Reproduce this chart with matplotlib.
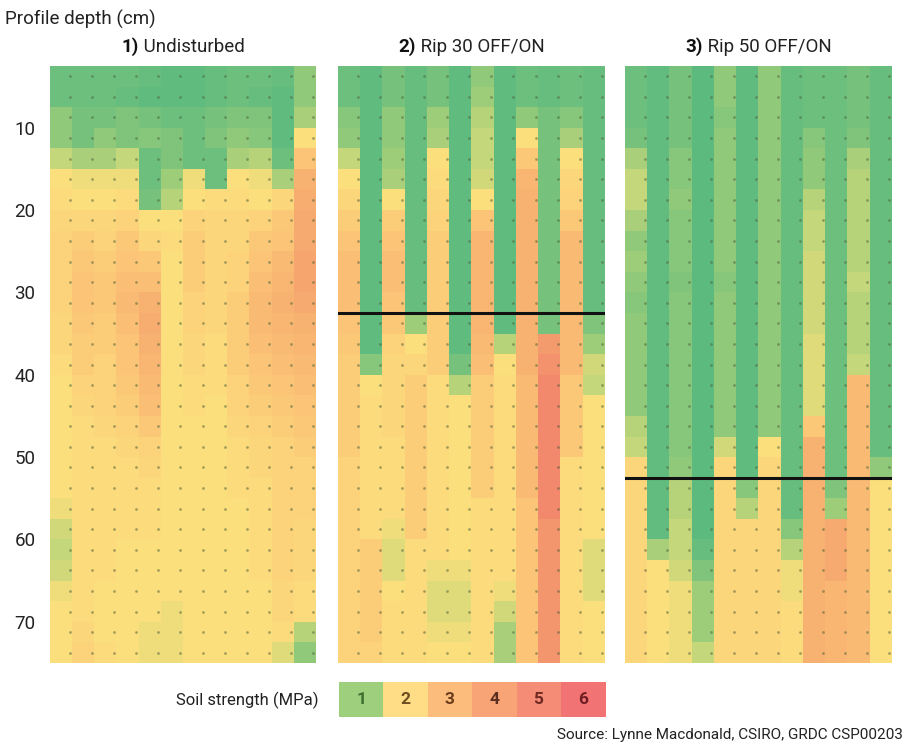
import matplotlib
matplotlib.use("Agg")
import matplotlib.pyplot as plt
import numpy as np
from matplotlib.colors import LinearSegmentedColormap, ListedColormap

plt.rcParams["font.family"] = ["Roboto", "DejaVu Sans"]

# depth rows: 2.5 cm cells from 2.5 to 75 cm, 12 sampling columns per profile
DEPTH_TOP = 2.5
DEPTH_BOTTOM = 75.0
N_COLS = 12

UNDISTURBED = [
    [0.8, 0.8, 0.8, 0.8, 0.7, 0.6, 0.6, 0.7, 0.8, 0.8, 0.7, 1.2],
    [0.8, 0.8, 0.8, 0.7, 0.6, 0.6, 0.6, 0.7, 0.8, 0.7, 0.6, 1.2],
    [1.2, 0.9, 0.9, 1.0, 0.9, 0.8, 0.8, 0.9, 1.0, 1.0, 0.6, 1.4],
    [1.2, 0.9, 1.2, 1.0, 1.1, 1.0, 0.8, 1.0, 1.2, 1.1, 0.6, 2.0],
    [1.6, 1.4, 1.4, 1.6, 0.8, 1.0, 0.8, 0.8, 1.4, 1.5, 0.8, 2.6],
    [2.0, 1.9, 1.9, 1.9, 0.8, 1.3, 1.9, 0.8, 2.0, 1.9, 1.4, 3.0],
    [2.1, 2.0, 2.0, 2.1, 0.9, 1.5, 2.0, 2.1, 2.1, 2.0, 2.2, 3.1],
    [2.2, 2.2, 2.2, 2.3, 2.0, 2.0, 2.3, 2.2, 2.2, 2.3, 2.5, 3.2],
    [2.3, 2.4, 2.3, 2.5, 2.2, 2.1, 2.4, 2.2, 2.2, 2.5, 2.6, 3.2],
    [2.3, 2.5, 2.4, 2.6, 2.5, 2.0, 2.4, 2.2, 2.3, 2.6, 2.8, 3.3],
    [2.3, 2.6, 2.5, 2.7, 2.7, 2.0, 2.4, 2.2, 2.3, 2.7, 2.9, 3.3],
    [2.3, 2.6, 2.5, 2.8, 3.0, 2.0, 2.3, 2.2, 2.4, 2.8, 3.0, 3.2],
    [2.2, 2.5, 2.4, 2.7, 3.1, 2.0, 2.3, 2.2, 2.4, 2.8, 2.9, 3.0],
    [2.2, 2.4, 2.4, 2.6, 3.0, 2.0, 2.2, 2.1, 2.4, 2.7, 2.8, 2.9],
    [2.1, 2.4, 2.3, 2.6, 2.9, 2.0, 2.2, 2.1, 2.4, 2.6, 2.7, 2.8],
    [2.0, 2.3, 2.3, 2.5, 2.8, 2.0, 2.1, 2.1, 2.3, 2.5, 2.6, 2.7],
    [2.0, 2.2, 2.3, 2.4, 2.7, 2.0, 2.1, 2.0, 2.3, 2.4, 2.5, 2.6],
    [2.0, 2.1, 2.2, 2.3, 2.5, 2.0, 2.0, 2.0, 2.2, 2.3, 2.4, 2.5],
    [2.0, 2.1, 2.1, 2.2, 2.3, 2.0, 2.0, 2.0, 2.1, 2.2, 2.3, 2.4],
    [2.0, 2.1, 2.1, 2.1, 2.2, 2.0, 2.0, 2.0, 2.1, 2.2, 2.3, 2.3],
    [2.0, 2.1, 2.1, 2.1, 2.1, 2.0, 2.0, 2.0, 2.1, 2.1, 2.3, 2.3],
    [1.9, 2.1, 2.1, 2.1, 2.1, 2.0, 2.0, 2.0, 2.0, 2.1, 2.3, 2.3],
    [1.7, 2.1, 2.1, 2.1, 2.1, 2.0, 2.0, 2.0, 2.0, 2.1, 2.3, 2.2],
    [1.6, 2.1, 2.1, 2.0, 2.0, 2.0, 2.0, 2.0, 2.0, 2.1, 2.3, 2.2],
    [1.7, 2.1, 2.1, 2.0, 2.0, 2.0, 2.0, 2.0, 2.0, 2.1, 2.3, 2.2],
    [1.9, 2.1, 2.0, 2.0, 2.0, 2.0, 2.0, 2.0, 2.0, 2.0, 2.2, 2.1],
    [2.0, 2.1, 2.0, 2.0, 2.0, 1.9, 2.0, 2.0, 2.0, 2.0, 2.2, 2.1],
    [2.0, 2.2, 2.0, 2.0, 1.9, 1.9, 2.0, 2.0, 2.0, 2.0, 2.1, 1.5],
    [2.0, 2.3, 2.1, 2.0, 1.9, 1.9, 2.0, 2.0, 2.0, 2.0, 1.8, 1.2],
]

RIP30 = [
    [0.8, 0.6, 0.9, 0.7, 0.9, 0.6, 1.2, 0.6, 0.8, 0.7, 0.8, 0.7],
    [0.8, 0.6, 0.9, 0.7, 0.9, 0.6, 1.3, 0.6, 0.8, 0.7, 0.8, 0.7],
    [1.1, 0.6, 1.2, 0.7, 1.3, 0.6, 1.5, 0.6, 1.2, 0.9, 1.1, 0.7],
    [1.2, 0.6, 1.2, 0.7, 1.4, 0.6, 1.6, 0.6, 2.0, 0.9, 1.4, 0.7],
    [1.6, 0.6, 1.3, 0.7, 2.0, 0.6, 1.6, 0.6, 2.5, 0.9, 2.0, 0.7],
    [2.0, 0.6, 1.4, 0.7, 2.1, 0.6, 1.7, 0.6, 2.9, 0.9, 2.2, 0.7],
    [2.2, 0.6, 2.0, 0.7, 2.2, 0.6, 2.0, 0.6, 3.0, 0.9, 2.3, 0.7],
    [2.4, 0.6, 2.4, 0.7, 2.3, 0.6, 2.6, 0.6, 3.0, 0.9, 2.5, 0.7],
    [2.6, 0.6, 2.6, 0.7, 2.4, 0.6, 2.9, 0.6, 3.0, 0.9, 2.8, 0.7],
    [2.7, 0.6, 2.7, 0.7, 2.4, 0.6, 2.9, 0.6, 3.0, 0.9, 2.8, 0.7],
    [2.7, 0.6, 2.7, 0.7, 2.4, 0.6, 2.9, 0.6, 3.0, 0.9, 2.8, 0.7],
    [2.7, 0.6, 2.6, 0.7, 2.4, 0.6, 2.9, 0.6, 3.0, 0.9, 2.8, 0.7],
    [2.6, 0.6, 2.5, 1.3, 2.4, 0.6, 2.9, 0.6, 3.0, 0.9, 2.8, 1.0],
    [2.5, 0.6, 2.3, 2.0, 2.4, 0.6, 2.8, 1.5, 3.0, 3.6, 2.8, 1.3],
    [2.4, 1.1, 2.2, 2.2, 2.4, 0.9, 2.7, 2.0, 3.0, 3.9, 2.8, 1.7],
    [2.4, 2.0, 2.2, 2.4, 2.1, 1.5, 2.4, 2.1, 2.8, 4.3, 2.5, 1.6],
    [2.4, 2.1, 2.2, 2.4, 2.1, 2.0, 2.4, 2.1, 2.8, 4.3, 2.5, 2.0],
    [2.4, 2.1, 2.2, 2.4, 2.1, 2.0, 2.4, 2.1, 2.8, 4.3, 2.5, 2.0],
    [2.4, 2.1, 2.1, 2.4, 2.1, 2.0, 2.4, 2.1, 2.8, 4.3, 2.5, 2.0],
    [2.3, 2.1, 2.1, 2.4, 2.1, 2.0, 2.4, 2.1, 2.8, 4.3, 2.1, 2.0],
    [2.3, 2.1, 2.1, 2.4, 2.1, 2.0, 2.4, 2.1, 2.8, 4.3, 2.1, 2.0],
    [2.3, 2.1, 2.1, 2.4, 2.1, 2.0, 2.1, 2.1, 2.6, 4.3, 2.1, 2.0],
    [2.3, 2.1, 1.9, 2.4, 2.1, 2.0, 2.1, 2.1, 2.6, 3.8, 2.1, 2.0],
    [2.3, 2.4, 1.8, 2.1, 2.1, 2.0, 2.1, 2.1, 2.6, 3.8, 2.1, 1.8],
    [2.3, 2.4, 1.8, 2.1, 1.9, 1.9, 2.1, 2.1, 2.6, 3.8, 2.1, 1.8],
    [2.3, 2.4, 2.0, 2.1, 1.8, 1.8, 2.1, 1.9, 2.6, 3.8, 2.1, 1.8],
    [2.3, 2.4, 2.1, 2.1, 1.8, 1.8, 2.1, 1.7, 2.6, 3.8, 2.1, 2.0],
    [2.3, 2.4, 2.1, 2.1, 1.9, 1.9, 2.1, 1.4, 2.6, 3.8, 2.1, 2.0],
    [2.3, 2.3, 2.1, 2.1, 2.0, 2.0, 2.1, 1.4, 2.6, 3.8, 2.1, 2.0],
]

RIP50 = [
    [0.8, 0.65, 0.9, 0.55, 1.2, 0.6, 1.2, 0.7, 0.8, 0.8, 0.9, 0.7],
    [0.8, 0.65, 0.9, 0.55, 1.2, 0.6, 1.2, 0.7, 0.8, 0.8, 0.9, 0.7],
    [0.8, 0.65, 0.9, 0.55, 1.1, 0.6, 1.2, 0.7, 0.8, 0.8, 0.9, 0.7],
    [0.9, 0.65, 0.9, 0.55, 1.2, 0.6, 1.2, 0.7, 1.1, 0.8, 1.0, 0.7],
    [1.4, 0.65, 1.1, 0.55, 1.2, 0.6, 1.2, 0.7, 1.2, 0.8, 1.4, 0.7],
    [1.6, 0.65, 1.1, 0.55, 1.2, 0.6, 1.2, 0.7, 1.2, 0.8, 1.5, 0.7],
    [1.6, 0.65, 1.2, 0.55, 1.2, 0.6, 1.2, 0.7, 1.5, 0.8, 1.5, 0.7],
    [1.4, 0.65, 1.1, 0.55, 1.2, 0.6, 1.2, 0.7, 1.6, 0.8, 1.5, 0.7],
    [1.2, 0.65, 1.1, 0.55, 1.2, 0.6, 1.2, 0.7, 1.6, 0.8, 1.5, 0.7],
    [1.3, 0.65, 1.1, 0.55, 1.2, 0.6, 1.2, 0.7, 1.7, 0.8, 1.5, 0.7],
    [1.2, 0.65, 1.0, 0.55, 1.1, 0.6, 1.2, 0.7, 1.7, 0.8, 1.6, 0.7],
    [1.1, 0.65, 1.1, 0.55, 1.2, 0.6, 1.2, 0.7, 1.7, 0.8, 1.5, 0.7],
    [1.2, 0.65, 1.1, 0.55, 1.2, 0.6, 1.2, 0.7, 1.7, 0.8, 1.5, 0.7],
    [1.2, 0.65, 1.1, 0.55, 1.2, 0.6, 1.2, 0.7, 1.8, 0.8, 1.5, 0.7],
    [1.2, 0.65, 1.1, 0.55, 1.2, 0.6, 1.2, 0.7, 1.8, 0.8, 1.6, 0.7],
    [1.2, 0.65, 1.1, 0.55, 1.2, 0.6, 1.2, 0.7, 1.8, 0.8, 2.8, 0.7],
    [1.2, 0.65, 1.1, 0.55, 1.2, 0.6, 1.2, 0.7, 1.8, 0.8, 2.8, 0.7],
    [1.5, 0.65, 1.1, 0.55, 1.2, 0.6, 1.2, 0.7, 2.5, 0.8, 2.8, 0.7],
    [1.6, 0.65, 1.1, 0.55, 1.7, 0.6, 2.0, 0.7, 3.0, 0.8, 2.8, 0.7],
    [2.2, 0.65, 1.2, 0.55, 2.2, 0.6, 2.2, 0.7, 3.0, 0.8, 2.8, 1.2],
    [2.2, 0.65, 1.5, 0.55, 2.2, 1.1, 2.2, 0.7, 3.0, 1.0, 2.8, 2.0],
    [2.2, 0.65, 1.5, 0.55, 2.2, 1.5, 2.2, 0.7, 3.0, 1.3, 2.8, 2.0],
    [2.2, 0.65, 1.6, 0.55, 2.2, 2.2, 2.2, 1.1, 3.0, 3.2, 2.8, 2.0],
    [2.2, 1.4, 1.6, 0.7, 2.2, 2.2, 2.2, 1.5, 3.0, 3.2, 2.8, 2.0],
    [2.2, 2.0, 1.7, 1.0, 2.2, 2.2, 2.2, 1.9, 3.0, 3.2, 2.8, 2.0],
    [2.2, 2.0, 1.9, 1.3, 2.2, 2.2, 2.2, 1.9, 3.0, 2.9, 2.8, 2.0],
    [2.2, 2.0, 1.9, 1.3, 2.2, 2.2, 2.2, 2.1, 3.0, 2.9, 2.8, 2.0],
    [2.2, 2.0, 1.9, 1.3, 2.2, 2.2, 2.2, 2.1, 3.0, 2.9, 2.8, 2.0],
    [2.2, 2.0, 1.9, 1.6, 2.2, 2.2, 2.2, 2.1, 3.0, 2.9, 2.8, 2.0],
]

PANELS = [
    ("1)", " Undisturbed", UNDISTURBED, None),
    ("2)", " Rip 30 OFF/ON", RIP30, 32.5),
    ("3)", " Rip 50 OFF/ON", RIP50, 52.5),
]

DEPTH_TICKS = [10, 20, 30, 40, 50, 60, 70]

SCALE_VALUES = [1, 2, 3, 4, 5, 6]
SCALE_COLORS = ["#9dcf7d", "#fedd86", "#fcbd7c", "#f9a476", "#f48c76", "#f27373"]
SCALE_TEXT = ["#3b6e2e", "#6e4f1f", "#6b3d1c", "#5b2e20", "#6e2a22", "#6e1f22"]

VMIN, VMAX = 0.5, 6.0
CMAP_NODES = [
    (0.5, "#5bba80"),
    (0.8, "#6fc07e"),
    (1.2, "#92ca7a"),
    (1.6, "#c4d77a"),
    (2.0, "#fde07d"),
    (2.5, "#fcc978"),
    (3.0, "#f8b271"),
    (3.5, "#f59e6f"),
    (4.3, "#f2886c"),
    (6.0, "#ec6868"),
]
soil_cmap = LinearSegmentedColormap.from_list(
    "soil", [((v - VMIN) / (VMAX - VMIN), c) for v, c in CMAP_NODES]
)

W, H = 909, 749
fig = plt.figure(figsize=(W / 100, H / 100), dpi=100)


def px_axes(x0, y0, x1, y1):
    return fig.add_axes([x0 / W, 1 - y1 / H, (x1 - x0) / W, (y1 - y0) / H])


panel_boxes = [(50, 66, 316, 663), (338, 66, 605, 663), (625, 66, 892, 663)]
renderer = fig.canvas.get_renderer()

n_rows = len(UNDISTURBED)
row_centers = DEPTH_TOP + (np.arange(n_rows) + 0.5) * (DEPTH_BOTTOM - DEPTH_TOP) / n_rows

for i, (box, (num, name, grid, rip_depth)) in enumerate(zip(panel_boxes, PANELS)):
    ax = px_axes(*box)
    ax.imshow(
        np.array(grid), cmap=soil_cmap, vmin=VMIN, vmax=VMAX,
        extent=[0, N_COLS, DEPTH_BOTTOM, DEPTH_TOP], aspect="auto",
        interpolation="nearest",
    )
    # penetrometer sampling points
    gx, gy = np.meshgrid(np.arange(N_COLS) + 0.88, row_centers)
    ax.scatter(gx.ravel(), gy.ravel(), s=4, color="#4d5e3a", alpha=0.5, linewidths=0)
    if rip_depth is not None:
        ax.axhline(rip_depth, color="#111111", lw=2.2)
    ax.set_xlim(0, N_COLS)
    ax.set_ylim(DEPTH_BOTTOM, DEPTH_TOP)
    ax.set_xticks([])
    for s in ax.spines.values():
        s.set_visible(False)
    if i == 0:
        ax.set_yticks(DEPTH_TICKS)
        ax.tick_params(axis="y", length=0, pad=10.5, labelsize=13.5, labelcolor="#222222")
    else:
        ax.set_yticks([])

    t1 = ax.text(0.5, 1.0 + 14 / 597, num, transform=ax.transAxes, fontsize=13.5,
                 fontweight="bold", ha="left", va="baseline", color="#111111")
    t2 = ax.annotate(name, xy=(1, 0), xycoords=t1, fontsize=13.5, ha="left",
                     va="bottom", color="#222222")
    w = t1.get_window_extent(renderer).width + t2.get_window_extent(renderer).width
    t1.set_x(0.5 - w / 2 / ax.bbox.width)

fig.text(5 / W, 1 - 25 / H, "Profile depth (cm)", fontsize=13.5, color="#222222",
         ha="left", va="baseline")

# soil strength scale
cax = px_axes(339, 682, 605, 717)
cax.imshow(np.array([SCALE_VALUES]), cmap=ListedColormap(SCALE_COLORS),
           vmin=0.5, vmax=6.5, extent=[0.5, 6.5, 0, 1], aspect="auto")
for v, tc in zip(SCALE_VALUES, SCALE_TEXT):
    cax.text(v, 0.5, str(v), ha="center", va="center", fontsize=12.5,
             fontweight="bold", color=tc)
cax.set_axis_off()

fig.text(318 / W, 1 - 700 / H, "Soil strength (MPa)", fontsize=12, color="#222222",
         ha="right", va="center")
fig.text(903 / W, 1 - 735 / H, "Source: Lynne Macdonald, CSIRO, GRDC CSP00203",
         fontsize=11, color="#222222", ha="right", va="center")

fig.savefig("out.png", dpi=100, facecolor="white")
